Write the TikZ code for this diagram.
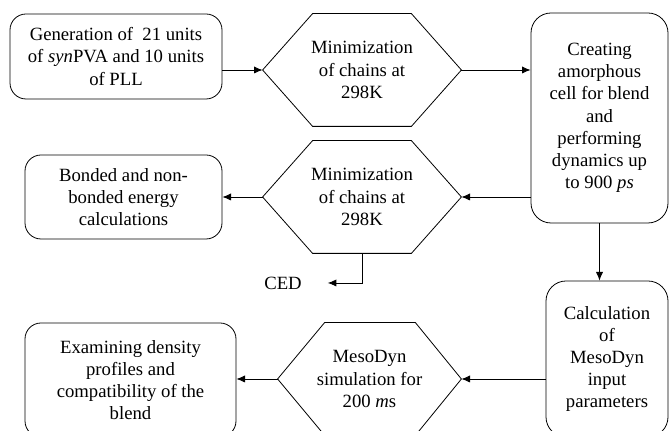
\documentclass[tikz,border=0pt]{standalone}
\usepackage{fontspec}
\setmainfont{Liberation Serif}
\usetikzlibrary{arrows.meta}
\pgfdeclarelayer{edgelayer}
\pgfdeclarelayer{nodelayer}
\pgfsetlayers{edgelayer,nodelayer,main}
\tikzstyle{none} = []
\tikzstyle{roundbox} = [draw, rounded corners=8pt, align=center, inner sep=0pt]
\tikzstyle{hexbox} = [align=center, inner sep=0pt, minimum width=99pt, minimum height=56pt]
\tikzstyle{arrow} = [-{Latex[length=4.3pt,width=3.6pt]}]

\begin{document}
\begin{tikzpicture}[x=0.5pt, y=-0.5pt, line width=0.6pt, font=\fontsize{9.35}{11.1}\selectfont]
	\useasboundingbox (0, 0) rectangle (670, 431);
	\begin{pgfonlayer}{nodelayer}
		\node [style=roundbox, minimum width=106pt, minimum height=42.5pt] (0) at (116, 56.5) {Generation of\ \ 21 units\\of \textit{syn}PVA and 10 units\\of PLL};
		\node [style=hexbox] (1) at (362, 70) {Minimization\\of chains at\\298K};
		\node [style=roundbox, rounded corners=10pt, minimum width=68.5pt, minimum height=105pt] (2) at (599.5, 118) {Creating\\amorphous\\cell for blend\\and\\performing\\dynamics up\\to 900 \textit{ps}};
		\node [style=hexbox] (3) at (362, 197) {Minimization\\of chains at\\298K};
		\node [style=roundbox, minimum width=98.5pt, minimum height=42pt] (4) at (123.5, 197) {Bonded and non-\\bonded energy\\calculations};
		\node [style=roundbox, rounded corners=10pt, minimum width=61pt, minimum height=78pt] (5) at (607, 359) {Calculation\\of\\MesoDyn\\input\\parameters};
		\node [style=hexbox, minimum width=91.5pt] (6) at (369.5, 379) {MesoDyn\\simulation for\\200 \textit{m}s};
		\node [style=roundbox, minimum width=105.5pt, minimum height=57pt] (7) at (130.5, 380) {Examining density\\profiles and\\compatibility of the\\blend};
		\node [style=none] (8) at (283, 283) {CED};
		\draw ([xshift=25pt]1.north west) -- ([xshift=-25pt]1.north east) -- (1.east) -- ([xshift=-25pt]1.south east) -- ([xshift=25pt]1.south west) -- (1.west) -- cycle;
		\draw ([xshift=25pt]3.north west) -- ([xshift=-25pt]3.north east) -- (3.east) -- ([xshift=-25pt]3.south east) -- ([xshift=25pt]3.south west) -- (3.west) -- cycle;
		\draw ([xshift=23.5pt]6.north west) -- ([xshift=-23pt]6.north east) -- (6.east) -- ([xshift=-23pt]6.south east) -- ([xshift=23.5pt]6.south west) -- (6.west) -- cycle;
	\end{pgfonlayer}
	\begin{pgfonlayer}{edgelayer}
		\draw [style=arrow] (0.east |- 1.west) to (1.west);
		\draw [style=arrow] (1.east) to (1.east -| 2.west);
		\draw [style=arrow] (2.west |- 3.east) to (3.east);
		\draw [style=arrow] (3.west) to (3.west -| 4.east);
		\draw [style=arrow, shorten >=9.5pt] (3.south) |- (8.east);
		\draw [style=arrow] (2.south) to (2.south |- 5.north);
		\draw [style=arrow] (5.west |- 6.east) to (6.east);
		\draw [style=arrow] (6.west) to (6.west -| 7.east);
	\end{pgfonlayer}
\end{tikzpicture}
\end{document}
